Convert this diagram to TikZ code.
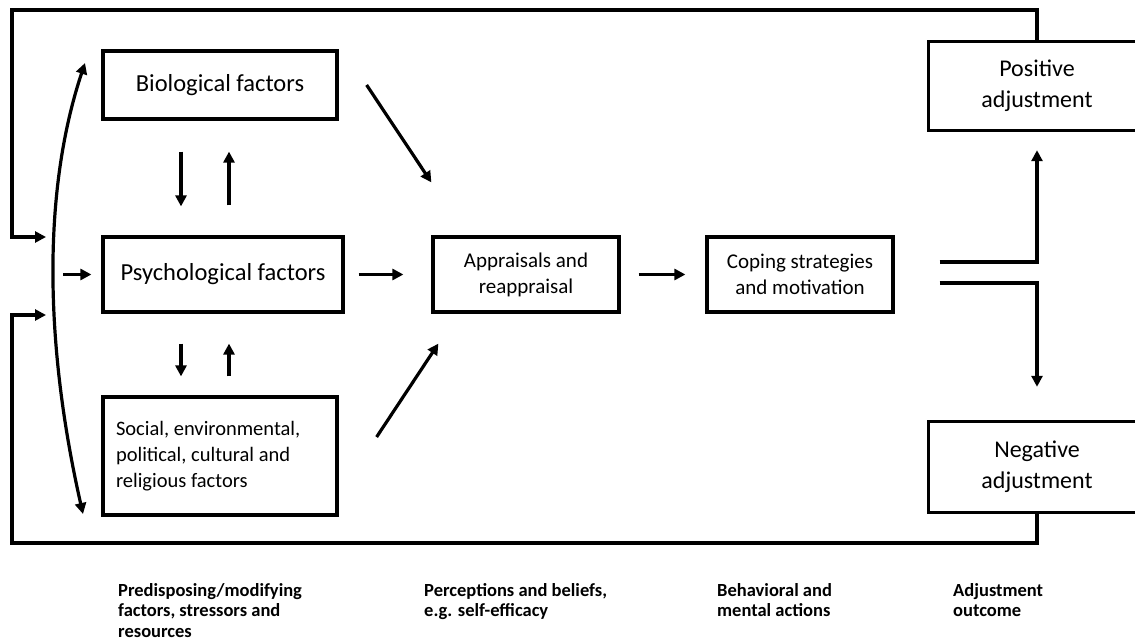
\documentclass[tikz,border=0pt]{standalone}
\usepackage{fontspec}
\setmainfont{Carlito}
\usetikzlibrary{arrows.meta}
\begin{document}
\begin{tikzpicture}[x=1pt,y=-1pt]
			\tikzstyle{box}=[rectangle,draw=black,line width=3.2pt,inner sep=0pt,align=center]
			\tikzstyle{cut}=[rectangle,inner sep=0pt,align=center]
			\tikzstyle{arr}=[line width=3.2pt,-{Triangle[length=11pt,width=11pt]}]
			\tikzstyle{lbl}=[anchor=north west,align=left,inner sep=0pt,font=\bfseries\fontsize{18.5}{20.5}\selectfont]
			\useasboundingbox (0,0) rectangle (1135,644);
			\clip (0,0) rectangle (1135,644);
			\begin{scope}
			\node[box,minimum width=234pt,minimum height=68pt,font=\fontsize{24.5}{29}\selectfont] (bio) at (220,85) {Biological factors};
			\node[box,minimum width=240pt,minimum height=75pt,font=\fontsize{24.5}{29}\selectfont] (psy) at (223,274.5) {Psychological factors};
			\node[box,minimum width=234pt,minimum height=118pt,align=flush left,text width=208pt,inner xsep=13pt,font=\fontsize{20.5}{26}\selectfont] (soc) at (220,456) {Social, environmental,\\political, cultural and\\religious factors};
			\node[box,minimum width=186pt,minimum height=75pt,font=\fontsize{21}{26}\selectfont] (app) at (526,274.5) {Appraisals and\\reappraisal};
			\node[box,minimum width=186pt,minimum height=75pt,font=\fontsize{21}{26}\selectfont] (cop) at (800,274.5) {Coping strategies\\and motivation};
			\node[cut,minimum width=216pt,minimum height=88pt,font=\fontsize{24}{31}\selectfont] (pos) at (1037,86) {Positive\\adjustment};
			\node[cut,minimum width=216pt,minimum height=90pt,font=\fontsize{24}{31}\selectfont] (neg) at (1037,467) {Negative\\adjustment};
			
			\node[lbl] (l1) at (118,583) {Predisposing/modifying\\factors, stressors and\\resources};
			\node[lbl] (l2) at (424,583) {Perceptions and beliefs,\\e.g. self-efficacy};
			\node[lbl] (l3) at (717,583) {Behavioral and\\mental actions};
			\node[lbl] (l4) at (953,583) {Adjustment\\outcome};
			
			\coordinate (ctop) at (85,63);
			\coordinate (cbot) at (83,514);
			\coordinate (fbtop) at (46,237);
			\coordinate (fbbot) at (46,315);
			\end{scope}
			
			% outcome boxes run off the right edge
			\draw[line width=3.2pt] ([xshift=20pt]pos.north east) -- (pos.north west) -- (pos.south west) -- ([xshift=20pt]pos.south east);
			\draw[line width=3.2pt] ([xshift=20pt]neg.north east) -- (neg.north west) -- (neg.south west) -- ([xshift=20pt]neg.south east);
			
			% feedback loops
			\draw[arr] (pos.north) |- (12,10) |- (fbtop);
			\draw[arr] (neg.south) |- (12,543) |- (fbbot);
			\draw[line width=3.2pt,{Triangle[length=11pt,width=11pt]}-{Triangle[length=11pt,width=11pt]}] (ctop) .. controls (44,186) and (43,337) .. (cbot);
			\draw[arr] ([xshift=-38pt]psy.west) -- ([xshift=-10pt]psy.west);
			
			% between the factors
			\draw[arr] ([xshift=-39pt,yshift=-31pt]bio.south) -- ([xshift=-42pt,yshift=29pt]psy.north);
			\draw[arr] ([xshift=6pt,yshift=30pt]psy.north) -- ([xshift=9pt,yshift=-31pt]bio.south);
			\draw[arr] ([xshift=-42pt,yshift=-30pt]psy.south) -- ([xshift=-39pt,yshift=19pt]soc.north);
			\draw[arr] ([xshift=9pt,yshift=19pt]soc.north) -- ([xshift=6pt,yshift=-30pt]psy.south);
			
			% towards the appraisals
			\draw[arr] ([xshift=28pt]bio.east) -- ([yshift=53pt]app.north west);
			\draw[arr,shorten <=14pt,shorten >=28pt] (psy) -- (app);
			\draw[arr] ([xshift=38pt,yshift=19pt]soc.east) -- ([xshift=7pt,yshift=-30pt]app.south west);
			\draw[arr,shorten <=18pt,shorten >=20pt] (app) -- (cop);
			
			% outcomes
			\draw[arr] ([xshift=45pt,yshift=12.5pt]cop.east) -| ([yshift=-20pt]pos.south);
			\draw[arr] ([xshift=45pt,yshift=-8.5pt]cop.east) -| ([yshift=35pt]neg.north);
		\end{tikzpicture}
\end{document}
